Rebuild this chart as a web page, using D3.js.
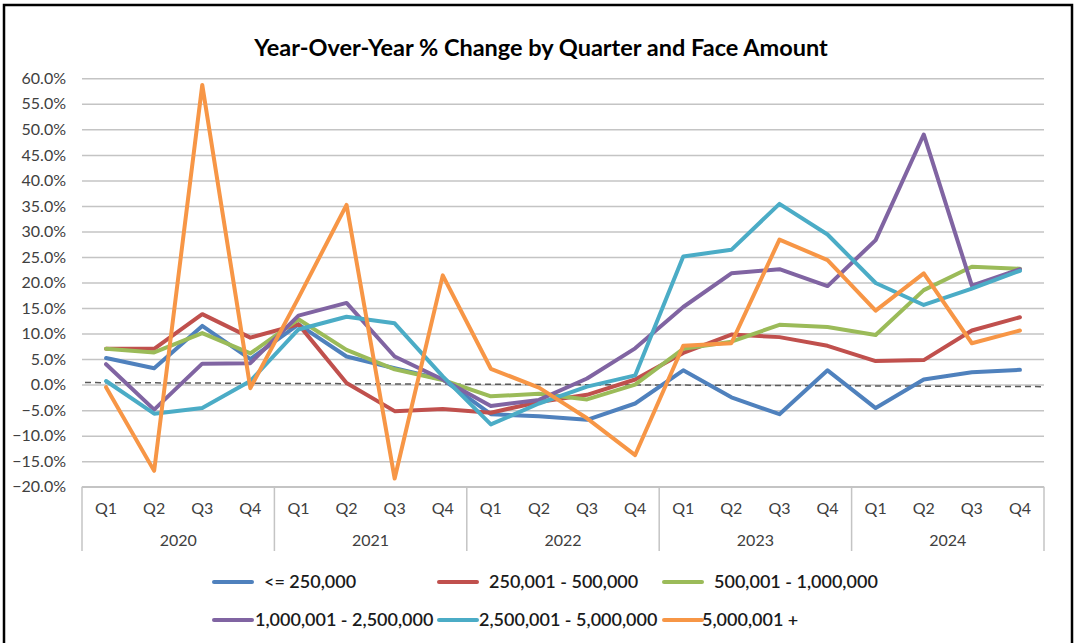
<!DOCTYPE html>
<html>
<head>
<meta charset="utf-8">
<script src="https://cdn.jsdelivr.net/npm/d3@7"></script>
<style>
  body { margin: 0; background: #fff; }
  text { font-family: Lato, "Open Sans", sans-serif; }
</style>
</head>
<body>
<div id="chart"></div>
<script>
const years = ['2020', '2021', '2022', '2023', '2024']
const quarters = ['Q1', 'Q2', 'Q3', 'Q4']
const seriesNames = ['<= 250,000', '250,001 - 500,000', '500,001 - 1,000,000',
  '1,000,001 - 2,500,000', '2,500,001 - 5,000,000', '5,000,001 +']
const yTicks = [-20, -15, -10, -5, 0, 5, 10, 15, 20, 25, 30, 35, 40, 45, 50, 55, 60]

// % change per quarter, 2020 Q1 .. 2024 Q4
const upTo250k   = [5.2, 3.2, 11.5, 5.0,   11.8, 5.5, 3.2, 1.0,   -5.8, -6.2, -6.9, -3.7,   2.8, -2.5, -5.8, 2.8,   -4.6, 1.0, 2.4, 2.9]
const to500k     = [7.0, 7.0, 13.8, 9.2,   11.8, 0.3, -5.2, -4.8,  -5.5, -3.4, -2.0, 1.0,    6.2, 9.8, 9.3, 7.6,     4.6, 4.8, 10.6, 13.2]
const to1m       = [7.0, 6.3, 10.1, 6.1,   12.8, 6.8, 3.0, 0.9,   -2.3, -1.8, -2.9, 0.0,    7.0, 8.4, 11.7, 11.3,   9.7, 18.5, 23.1, 22.7]
const to2_5m     = [4.0, -4.9, 4.1, 4.2,   13.5, 16.0, 5.5, 1.0,  -4.2, -3.0, 1.2, 7.1,    15.2, 21.8, 22.6, 19.3, 28.3, 49.0, 19.4, 22.6]
const to5m       = [0.7, -5.7, -4.6, 0.7,  10.8, 13.3, 12.0, 1.6, -7.8, -3.7, -0.4, 1.8,   25.1, 26.4, 35.4, 29.4, 19.9, 15.6, 18.8, 22.3]
const over5m     = [-0.5, -16.9, 58.7, -0.7, 17.0, 35.2, -18.4, 21.4, 3.1, -0.6, -6.6, -13.8, 7.6, 8.1, 28.4, 24.4, 14.5, 21.8, 8.1, 10.6]
const zeroLine   = [0.4, -0.4]

const allSeries = [upTo250k, to500k, to1m, to2_5m, to5m, over5m]
const color = ['#4F81BD', '#C0504D', '#9BBB59', '#8064A2', '#4BACC6', '#F79646']

const categories = []
years.forEach(y => quarters.forEach(q => categories.push({year: y, q: q})))

var chart_width  = 1076;
var chart_height = 643;
var plot = {left: 82, right: 1044, top: 78.3, bottom: 486.7}

var svg = d3.select('#chart')
    .append('svg')
    .attr('width', chart_width)
    .attr('height', chart_height);

// outer frame
svg.append('rect')
    .attr('x', 4).attr('y', 5)
    .attr('width', 1068).attr('height', 680)
    .attr('fill', 'none')
    .attr('stroke', '#000')
    .attr('stroke-width', 2.5);

svg.append('text')
    .text('Year-Over-Year % Change by Quarter and Face Amount')
    .attr('x', 541).attr('y', 56)
    .attr('text-anchor', 'middle')
    .attr('font-size', 23.5)
    .attr('font-weight', 'bold')
    .attr('fill', '#000');

const x_scale = d3.scaleBand()
    .domain(d3.range(categories.length))
    .range([plot.left, plot.right])
const cx = i => x_scale(i) + x_scale.bandwidth() / 2

const y_scale = d3.scaleLinear()
    .domain([-20, 60])
    .range([plot.bottom, plot.top])

// gridlines + y labels
const yAxis = svg.append('g')
    .attr('transform', `translate(${plot.left},0)`)
    .call(d3.axisLeft(y_scale)
        .tickValues(yTicks)
        .tickSize(-(plot.right - plot.left))
        .tickPadding(16)
        .tickFormat(d => d3.format('.1f')(d) + '%'))
yAxis.select('.domain').remove()
yAxis.selectAll('.tick line')
    .attr('stroke', '#c4c4c4')
    .attr('stroke-width', 1.5)
yAxis.selectAll('.tick text')
    .attr('font-size', 16)
    .attr('fill', '#404040')

// category axis
const xg = svg.append('g')
xg.append('line')
    .attr('x1', plot.left).attr('x2', plot.right)
    .attr('y1', plot.bottom).attr('y2', plot.bottom)
    .attr('stroke', '#c4c4c4').attr('stroke-width', 1.5)
const yearEdges = d3.range(years.length + 1).map(k => k === years.length ? plot.right : x_scale(k * 4))
xg.selectAll('line.div')
    .data(yearEdges)
    .enter()
    .append('line')
    .attr('class', 'div')
    .attr('x1', d => d).attr('x2', d => d)
    .attr('y1', plot.bottom).attr('y2', 551)
    .attr('stroke', '#c4c4c4').attr('stroke-width', 1.5)
xg.selectAll('text.q')
    .data(categories)
    .enter()
    .append('text')
    .attr('class', 'q')
    .text(d => d.q)
    .attr('x', (d, i) => cx(i))
    .attr('y', 514)
    .attr('text-anchor', 'middle')
    .attr('font-size', 16)
    .attr('fill', '#404040')
xg.selectAll('text.yr')
    .data(years)
    .enter()
    .append('text')
    .attr('class', 'yr')
    .text(d => d)
    .attr('x', (d, k) => (x_scale(k * 4) + x_scale(k * 4 + 3) + x_scale.bandwidth()) / 2)
    .attr('y', 546)
    .attr('text-anchor', 'middle')
    .attr('font-size', 16)
    .attr('fill', '#404040')

// dashed zero reference
svg.append('line')
    .attr('x1', plot.left + 3).attr('x2', plot.right)
    .attr('y1', y_scale(zeroLine[0])).attr('y2', y_scale(zeroLine[1]))
    .attr('stroke', '#595959')
    .attr('stroke-width', 1.5)
    .attr('stroke-dasharray', '6,4')

const line = d3.line()
    .x((d, i) => cx(i))
    .y(d => y_scale(d))

svg.selectAll('path.series')
    .data(allSeries)
    .enter()
    .append('path')
    .attr('class', 'series')
    .attr('d', d => line(d))
    .attr('fill', 'none')
    .attr('stroke', (d, i) => color[i])
    .attr('stroke-width', 4)
    .attr('stroke-linejoin', 'round')
    .attr('stroke-linecap', 'round')

// legend
const legendPos = [
    {x: 214, y: 582, dx: 50}, {x: 439, y: 582, dx: 50}, {x: 664, y: 582, dx: 50},
    {x: 214, y: 620, dx: 41}, {x: 439, y: 620, dx: 40}, {x: 664, y: 620, dx: 38}
]
const lg = svg.selectAll('g.legend')
    .data(seriesNames)
    .enter()
    .append('g')
    .attr('class', 'legend')
    .attr('transform', (d, i) => `translate(${legendPos[i].x},${legendPos[i].y})`)
lg.append('line')
    .attr('x1', 0).attr('x2', 38)
    .attr('stroke', (d, i) => color[i])
    .attr('stroke-width', 4)
    .attr('stroke-linecap', 'round')
lg.append('text')
    .text(d => d)
    .attr('x', (d, i) => legendPos[i].dx)
    .attr('y', 6)
    .attr('font-size', 18)
    .attr('font-weight', 600)
    .attr('fill', '#1a1a1a')
</script>
</body>
</html>
